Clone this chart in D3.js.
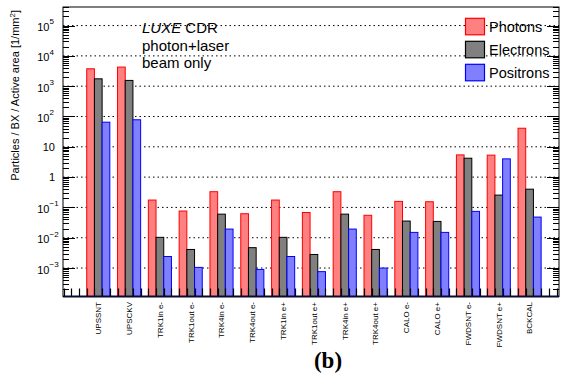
<!DOCTYPE html>
<html><head><meta charset="utf-8">
<script src="https://cdn.jsdelivr.net/npm/d3@7"></script>
<style>
html,body{margin:0;padding:0;background:#fff;}
svg{display:block;}
text{font-family:"Liberation Sans",Arial,sans-serif;fill:#000;}
</style></head>
<body>
<svg id="c" width="565" height="383"></svg>
<script>
const categories = ["UPSSNT","UPSCKV","TRK1in e-","TRK1out e-","TRK4in e-","TRK4out e-","TRK1in e+","TRK1out e+","TRK4in e+","TRK4out e+","CALO e-","CALO e+","FWDSNT e-","FWDSNT e+","BCKCAL"];
const photons   = [3750, 4270, 0.175, 0.076, 0.33, 0.062, 0.175, 0.068, 0.33, 0.055, 0.158, 0.154, 5.4, 5.3, 41];
const electrons = [1750, 1550, 0.0103, 0.0041, 0.060, 0.0047, 0.0103, 0.0028, 0.060, 0.0041, 0.0355, 0.0345, 4.2, 0.255, 0.40];
const positrons = [65, 78, 0.0024, 0.00105, 0.0193, 0.0009, 0.0024, 0.00076, 0.0193, 0.001, 0.015, 0.015, 0.074, 4.0, 0.048];
const seriesNames = ["Photons","Electrons","Positrons"];
const yTickExponents = [-3,-2,-1,0,1,2,3,4,5];
const annotationLines = ["CDR","photon+laser","beam only"];

const fills = ["#ff8080","#808080","#8080ff"];
const strokes = ["#ff0000","#000000","#0000ff"];
const series = [photons, electrons, positrons];

const svg = d3.select("#c");
const L = 63, R = 559, T = 7, B = 296.5;

const x = d3.scaleLinear().domain([-0.77, 15.33]).range([L, R]);
const y = d3.scaleLog().domain([1.15e-4, 4.1e5]).range([B, T]);

// gridlines
svg.append("g").selectAll("line").data(yTickExponents).join("line")
  .attr("x1", L).attr("x2", R)
  .attr("y1", d => y(Math.pow(10, d))).attr("y2", d => y(Math.pow(10, d)))
  .attr("stroke", "#000").attr("stroke-width", 1).attr("stroke-dasharray", "1.5,3");

// bars
const gBars = svg.append("g");
series.forEach((vals, s) => {
  gBars.selectAll(null).data(vals).join("rect")
    .attr("x", (d, i) => x(i + s * 0.25))
    .attr("width", (d, i) => x(i + s * 0.25 + 0.25) - x(i + s * 0.25))
    .attr("y", d => y(d))
    .attr("height", d => B - y(d))
    .attr("fill", fills[s])
    .attr("stroke", strokes[s]).attr("stroke-width", 1);
});

// y ticks (left and right)
const minor = [];
for (let e = -4; e <= 5; e++) for (let m = 2; m <= 9; m++) {
  const v = m * Math.pow(10, e);
  if (v > y.domain()[0] && v < y.domain()[1]) minor.push(v);
}
const gT = svg.append("g").attr("stroke", "#000").attr("stroke-width", 1);
minor.forEach(v => {
  const yy = Math.round(y(v)) + 0.5;
  gT.append("line").attr("x1", L).attr("x2", L + 6).attr("y1", yy).attr("y2", yy);
  gT.append("line").attr("x1", R).attr("x2", R - 6).attr("y1", yy).attr("y2", yy);
});
yTickExponents.forEach(e => {
  const yy = Math.round(y(Math.pow(10, e))) + 0.5;
  gT.append("line").attr("x1", L).attr("x2", L + 12).attr("y1", yy).attr("y2", yy);
  gT.append("line").attr("x1", R).attr("x2", R - 12).attr("y1", yy).attr("y2", yy);
});
// x ticks at quarter bins
for (let q = -0.75; q <= 15.26; q += 0.25) {
  const xx = Math.round(x(q)) + 0.5;
  gT.append("line").attr("x1", xx).attr("x2", xx).attr("y1", B).attr("y2", B - 8)
    .attr("stroke-width", 1.2);
}

// frame
svg.append("rect").attr("x", L).attr("y", T).attr("width", R - L).attr("height", B - T)
  .attr("fill", "none").attr("stroke", "#000").attr("stroke-width", 1);
svg.append("line").attr("x1", L).attr("x2", R).attr("y1", B).attr("y2", B)
  .attr("stroke", "#0a0a30").attr("stroke-width", 2);

// y tick labels
const gYL = svg.append("g").attr("font-size", 11);
yTickExponents.forEach(e => {
  const yy = y(Math.pow(10, e));
  if (e === 0 || e === 1) {
    gYL.append("text").attr("x", 55).attr("y", yy).attr("dy", "0.36em")
      .attr("text-anchor", "end").text(e === 0 ? "1" : "10");
  } else {
    gYL.append("text").attr("x", 49.5).attr("y", yy).attr("dy", "0.5em")
      .attr("text-anchor", "end").text("10");
    gYL.append("text").attr("x", 49.5).attr("y", yy).attr("dy", "-0.15em")
      .attr("font-size", 8).text(e < 0 ? "\u2212" + (-e) : String(e));
  }
});

// y axis title
const yt = svg.append("text").attr("transform", "translate(19,10) rotate(-90)")
  .attr("text-anchor", "end").attr("font-size", 11);
yt.append("tspan").text("Particles / BX / Active area [1/mm");
yt.append("tspan").attr("font-size", 8).attr("dy", -4).text("2");
yt.append("tspan").attr("dy", 4).text("]");

// x labels
svg.append("g").selectAll("text").data(categories).join("text")
  .attr("transform", (d, i) => `translate(${x(i + 0.375)},302) rotate(-90)`)
  .attr("text-anchor", "end").attr("dy", "0.35em").attr("font-size", 8)
  .text(d => d);

// annotation
const a1 = svg.append("text").attr("x", 142).attr("y", 33.3).attr("font-size", 15);
a1.append("tspan").attr("font-style", "italic").text("LUXE");
a1.append("tspan").text(" " + annotationLines[0]);
svg.append("text").attr("x", 142).attr("y", 50.5).attr("font-size", 15).text(annotationLines[1]);
svg.append("text").attr("x", 142).attr("y", 68).attr("font-size", 15).text(annotationLines[2]);

// legend
const lg = svg.append("g");
seriesNames.forEach((n, s) => {
  const cy = 26.3 + s * 23;
  lg.append("rect").attr("x", 465.5).attr("y", cy - 8).attr("width", 19).attr("height", 16.5)
    .attr("fill", fills[s]).attr("stroke", strokes[s]).attr("stroke-width", 1.2);
  lg.append("text").attr("x", 489).attr("y", cy).attr("dy", "0.36em").attr("font-size", 14.5).text(n);
});

// panel label
svg.append("text").attr("x", 328).attr("y", 368).attr("text-anchor", "middle")
  .style("font-family", "'Liberation Serif','Times New Roman',serif").style("font-weight", "bold")
  .style("font-size", "23px").text("(b)");
</script>
</body></html>
